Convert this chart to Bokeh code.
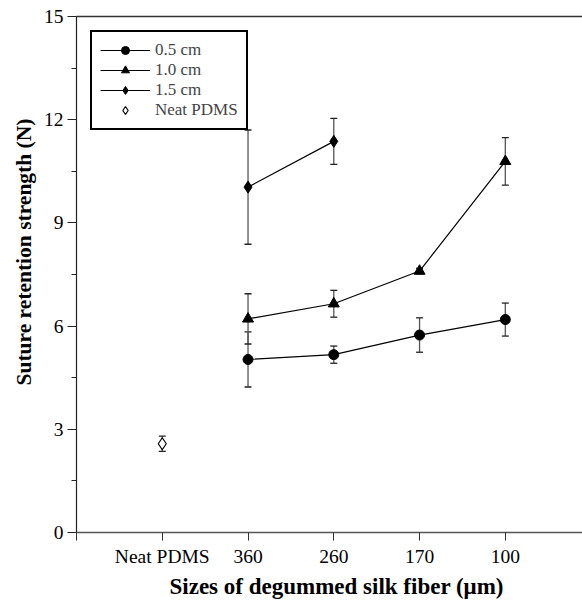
import numpy as np
from bokeh.plotting import figure
from bokeh.models import (Range1d, FixedTicker, LinearAxis, ColumnDataSource, Whisker,
                          TeeHead, Legend, LegendItem, Title)
from bokeh.embed import file_html
from bokeh.resources import INLINE

# ---- data ----
categories = ["Neat PDMS", "360", "260", "170", "100"]
y_ticks = [0, 3, 6, 9, 12, 15]

cat_05 = ["360", "260", "170", "100"]
val_05 = [5.03, 5.17, 5.74, 6.19]
sd_05 = [0.80, 0.25, 0.50, 0.48]

cat_10 = ["360", "260", "170", "100"]
val_10 = [6.21, 6.65, 7.60, 10.79]
sd_10 = [0.73, 0.39, 0.08, 0.69]

cat_15 = ["360", "260"]
val_15 = [10.04, 11.37]
sd_15 = [1.66, 0.67]

cat_neat = ["Neat PDMS"]
val_neat = [2.58]
sd_neat = [0.22]

FONT = "Liberation Serif"

def src(cats, vals, sds):
    x = [categories.index(c) for c in cats]
    return ColumnDataSource(dict(
        x=x, y=vals,
        upper=[v + s for v, s in zip(vals, sds)],
        lower=[v - s for v, s in zip(vals, sds)],
    ))

p = figure(width=582, height=601, x_range=Range1d(-1.0, 4.9), y_range=Range1d(0, 15),
           output_backend="svg", toolbar_location=None,
           min_border_left=76, min_border_right=0, min_border_top=16, min_border_bottom=69)
p.outline_line_color = None
p.xgrid.visible = False
p.ygrid.visible = False
p.background_fill_color = "white"
p.border_fill_color = "white"

# axes
xa = p.xaxis[0]
xa.ticker = FixedTicker(ticks=[-1] + list(range(len(categories))))
overrides = {-1: ""}
for i, c in enumerate(categories):
    overrides[i] = c
xa.major_label_overrides = overrides
xa.major_tick_in = 0
xa.major_tick_out = 8
xa.minor_tick_line_color = None
xa.axis_line_color = "#555555"
xa.axis_line_width = 1.5
xa.major_tick_line_color = "#333333"
xa.major_label_text_font = FONT
xa.major_label_text_font_size = "19.5px"
xa.major_label_text_color = "black"
xa.major_label_standoff = 5

ya = p.yaxis[0]
minor = [t + 1.5 for t in y_ticks[:-1]]
ya.ticker = FixedTicker(ticks=y_ticks, minor_ticks=minor)
ya.major_tick_in = 0
ya.major_tick_out = 9
ya.minor_tick_in = 0
ya.minor_tick_out = 5
ya.axis_line_color = "#222222"
ya.axis_line_width = 1.2
ya.major_tick_line_color = "#222222"
ya.minor_tick_line_color = "#222222"
ya.major_label_text_font = FONT
ya.major_label_text_font_size = "19.5px"
ya.major_label_text_color = "black"
ya.major_label_standoff = 4

top = LinearAxis(ticker=FixedTicker(ticks=[]), major_label_text_font_size="0px",
                 axis_line_color="#333333", axis_line_width=1.5,
                 major_tick_line_color=None, minor_tick_line_color=None)
p.add_layout(top, "above")

# series
s05 = src(cat_05, val_05, sd_05)
s10 = src(cat_10, val_10, sd_10)
s15 = src(cat_15, val_15, sd_15)
sn = src(cat_neat, val_neat, sd_neat)

for s in (s05, s10, s15, sn):
    w = Whisker(source=s, base="x", upper="upper", lower="lower",
                line_color="#555555", line_width=1.3,
                upper_head=TeeHead(size=7, line_color="#222222", line_width=1.3),
                lower_head=TeeHead(size=7, line_color="#222222", line_width=1.3))
    p.add_layout(w)

l05 = p.line("x", "y", source=s05, line_color="black", line_width=1.2)
m05 = p.scatter("x", "y", source=s05, marker="circle", size=10, fill_color="black", line_color="black")
l10 = p.line("x", "y", source=s10, line_color="black", line_width=1.2)
m10 = p.scatter("x", "y", source=s10, marker="triangle", size=11, fill_color="black", line_color="black")
l15 = p.line("x", "y", source=s15, line_color="black", line_width=1.2)
m15 = p.scatter("x", "y", source=s15, marker="diamond", size=12, fill_color="black", line_color="black")
mn = p.scatter("x", "y", source=sn, marker="diamond", size=12, fill_color="white", line_color="black", line_width=1.2)

legend = Legend(items=[
    LegendItem(label="0.5 cm", renderers=[l05, m05]),
    LegendItem(label="1.0 cm", renderers=[l10, m10]),
    LegendItem(label="1.5 cm", renderers=[l15, m15]),
    LegendItem(label="Neat PDMS", renderers=[mn]),
], location="top_left")
legend.margin = 14
legend.padding = 8
legend.spacing = 0
legend.glyph_width = 50
legend.glyph_height = 20
legend.label_height = 20
legend.label_standoff = 5
legend.label_text_font = FONT
legend.label_text_font_size = "17px"
legend.label_text_baseline = "middle"
legend.border_line_color = "black"
legend.border_line_alpha = 1.0
legend.border_line_width = 2
legend.background_fill_alpha = 1
p.add_layout(legend, "center")

# axis titles
xt = Title(text="Sizes of degummed silk fiber (\u03bcm)", align="left", offset=93,
           text_font=FONT, text_font_style="bold", text_font_size="23px",
           text_color="black", standoff=4)
p.add_layout(xt, "below")
yt = Title(text="Suture retention strength (N)", align="left", offset=147,
           text_font=FONT, text_font_style="bold", text_font_size="21.5px",
           text_color="black", standoff=9)
p.add_layout(yt, "left")

open("out.html", "w").write(file_html(p, INLINE))
